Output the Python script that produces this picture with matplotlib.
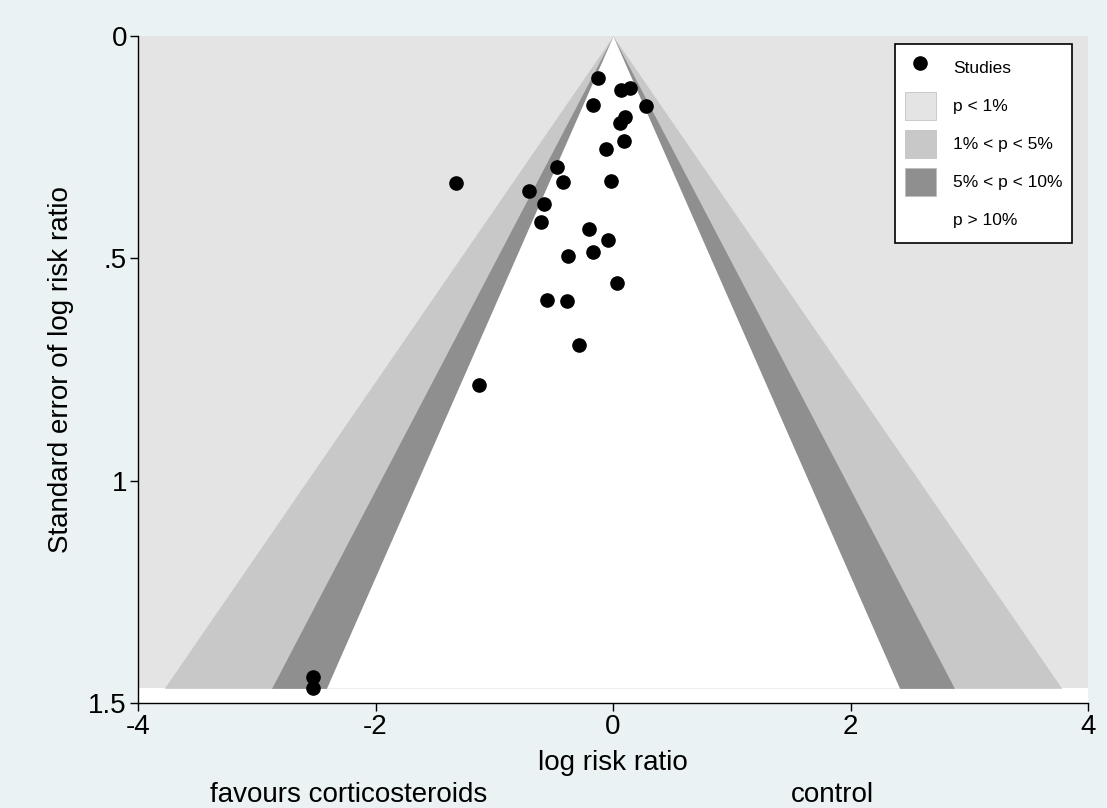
import numpy as np
import matplotlib
matplotlib.use('Agg')
import matplotlib.pyplot as plt
from matplotlib.patches import Patch
from matplotlib.lines import Line2D

plt.rcParams['font.family'] = ['Liberation Sans', 'DejaVu Sans']

# study estimates
log_rr = [-0.13, 0.07, 0.14, -0.17, 0.28, 0.10, 0.06, 0.09, -0.06, -0.47,
          -1.32, -0.02, -0.42, -0.71, -0.58, -0.61, -0.20, -0.045, -0.17, -0.38,
          0.03, -0.56, -0.39, -0.29, -1.13, -2.53, -2.53]
se_log_rr = [0.095, 0.122, 0.117, 0.155, 0.158, 0.183, 0.196, 0.237, 0.255, 0.294,
             0.330, 0.326, 0.328, 0.348, 0.377, 0.418, 0.435, 0.459, 0.485, 0.495,
             0.556, 0.594, 0.597, 0.695, 0.784, 1.441, 1.467]

# contour levels (two-sided z values)
z_1 = 2.576
z_5 = 1.960
z_10 = 1.645

legend_labels = ['Studies', 'p < 1%', '1% < p < 5%', '5% < p < 10%', 'p > 10%']
shade_colors = ['#e4e4e4', '#c8c8c8', '#8f8f8f', '#ffffff']

fig = plt.figure(figsize=(11.07, 8.08), dpi=100, facecolor='#eaf2f3')
ax = fig.add_axes([138 / 1107, 1 - 703 / 808, 950 / 1107, 667 / 808])
ax.set_facecolor('white')

se_max = max(se_log_rr)
se_grid = np.linspace(0, se_max, 200)

# contour regions
ax.fill_between([-4, 4], 0, se_max, color=shade_colors[0], lw=0, zorder=1)
ax.fill_betweenx(se_grid, -z_1 * se_grid, z_1 * se_grid, color=shade_colors[1], lw=0, zorder=2)
ax.fill_betweenx(se_grid, -z_5 * se_grid, z_5 * se_grid, color=shade_colors[2], lw=0, zorder=3)
ax.fill_betweenx(se_grid, -z_10 * se_grid, z_10 * se_grid, color=shade_colors[3], lw=0, zorder=4)

ax.plot(log_rr, se_log_rr, 'o', color='black', markersize=9.5, zorder=5)

ax.set_xlim(-4, 4)
ax.set_ylim(1.5, 0)
ax.set_xticks([-4, -2, 0, 2, 4])
ax.set_xticklabels(['-4', '-2', '0', '2', '4'])
ax.set_yticks([0, 0.5, 1, 1.5])
ax.set_yticklabels(['0', '.5', '1', '1.5'])
ax.tick_params(axis='both', labelsize=20, length=6, width=1, direction='out', pad=2)
for side in ['top', 'right']:
    ax.spines[side].set_visible(False)
for side in ['left', 'bottom']:
    ax.spines[side].set_linewidth(1)

ax.set_ylabel('Standard error of log risk ratio', fontsize=20, labelpad=10)
fig.text(613 / 1107, 1 - 763 / 808, 'log risk ratio', fontsize=20, ha='center', va='center')
fig.text(349 / 1107, 1 - 795 / 808, 'favours corticosteroids', fontsize=20, ha='center', va='center')
fig.text(832 / 1107, 1 - 795 / 808, 'control', fontsize=20, ha='center', va='center')

handles = [Line2D([], [], marker='o', color='black', linestyle='none', markersize=9.5)]
for c in shade_colors:
    handles.append(Patch(facecolor=c, edgecolor='#bbbbbb' if c != '#ffffff' else 'white', linewidth=0.5))
leg = ax.legend(handles, legend_labels, loc='upper left',
                bbox_to_anchor=(895 / 1107, 1 - 44 / 808), bbox_transform=fig.transFigure,
                fontsize=12.5, frameon=True, fancybox=False, framealpha=1,
                edgecolor='black', handlelength=1.8, handleheight=2.1,
                labelspacing=0.58, handletextpad=1.0, borderpad=0.55, borderaxespad=0)
leg.get_frame().set_linewidth(1.2)

fig.savefig('out.png', dpi=100, facecolor=fig.get_facecolor())
